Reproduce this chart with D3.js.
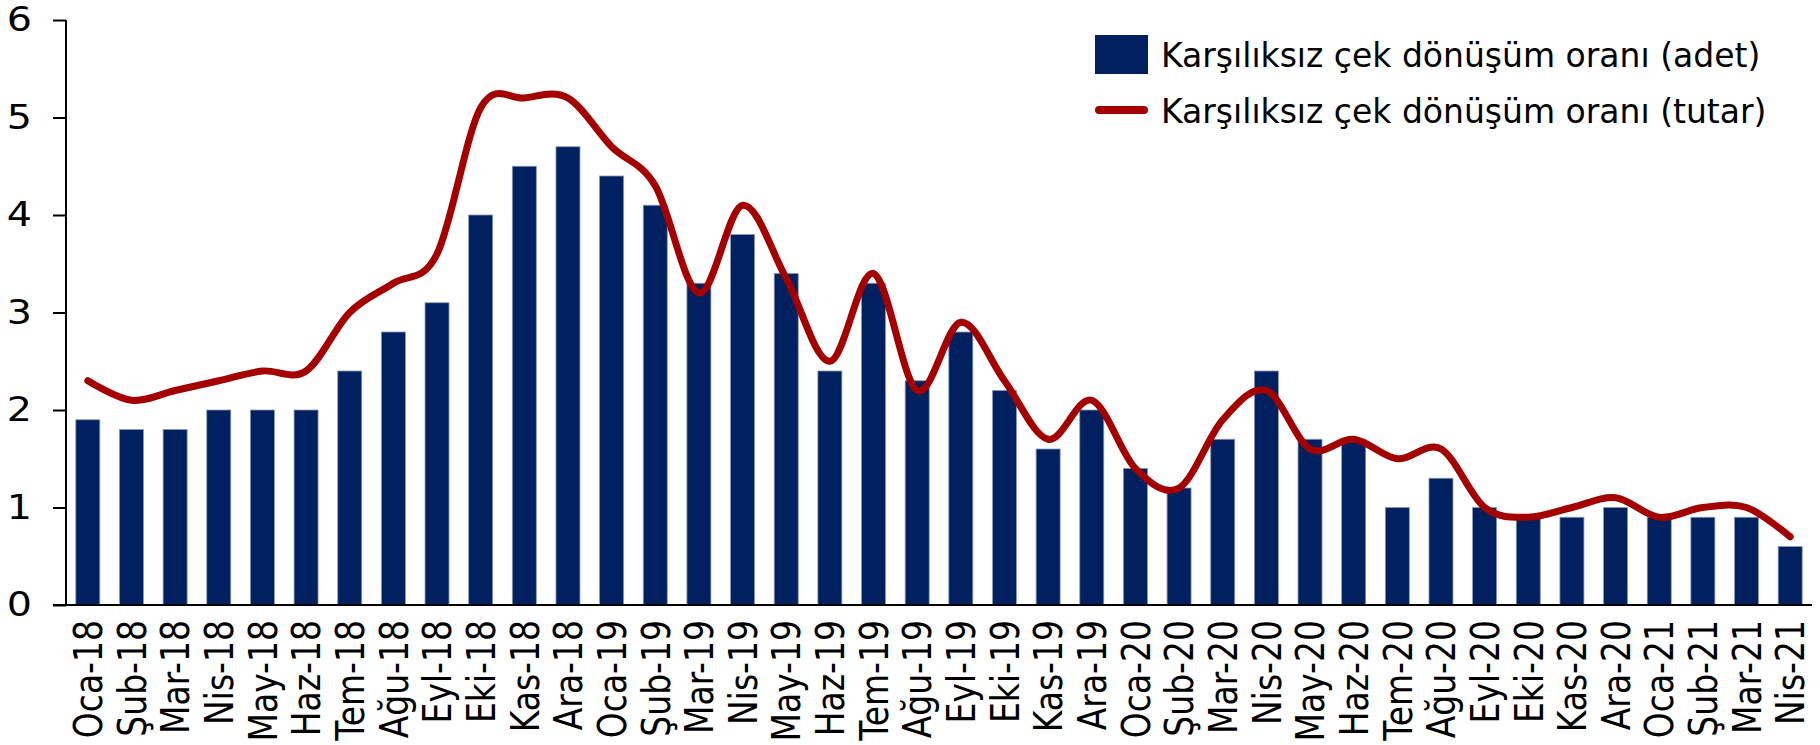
<!DOCTYPE html>
<html>
<head>
<meta charset="utf-8">
<script src="https://cdn.jsdelivr.net/npm/d3@7"></script>
<style>
	body { margin: 0; background: #fff; }
	text { font-family: "DejaVu Sans", Verdana, sans-serif; fill: #000; }
</style>
</head>
<body>
<div id="chart"></div>
<script>
var months = ["Oca-18","Şub-18","Mar-18","Nis-18","May-18","Haz-18","Tem-18","Ağu-18","Eyl-18","Eki-18","Kas-18","Ara-18",
	"Oca-19","Şub-19","Mar-19","Nis-19","May-19","Haz-19","Tem-19","Ağu-19","Eyl-19","Eki-19","Kas-19","Ara-19",
	"Oca-20","Şub-20","Mar-20","Nis-20","May-20","Haz-20","Tem-20","Ağu-20","Eyl-20","Eki-20","Kas-20","Ara-20",
	"Oca-21","Şub-21","Mar-21","Nis-21"]

// adet (bars)
var adet = [1.9,1.8,1.8,2.0,2.0,2.0,2.4,2.8,3.1,4.0,4.5,4.7,
	4.4,4.1,3.3,3.8,3.4,2.4,3.3,2.3,2.8,2.2,1.6,2.0,
	1.4,1.2,1.7,2.4,1.7,1.7,1.0,1.3,1.0,0.9,0.9,1.0,
	0.9,0.9,0.9,0.6]

// tutar (line)
var tutar = [2.3,2.1,2.2,2.3,2.4,2.4,3.0,3.3,3.6,5.1,5.2,5.2,
	4.7,4.3,3.2,4.1,3.35,2.5,3.4,2.2,2.9,2.3,1.7,2.1,
	1.4,1.2,1.9,2.2,1.6,1.7,1.5,1.6,1.0,0.9,1.0,1.1,
	0.9,1.0,1.0,0.7]

var yTicks = [0,1,2,3,4,5,6]
var legendLabels = ["Karşılıksız çek dönüşüm oranı (adet)", "Karşılıksız çek dönüşüm oranı (tutar)"]

var WIDTH = 1820, HEIGHT = 745
var LEFT = 66, RIGHT = 1812, TOP = 20, BOTTOM = 605
var BAR_COLOR = "#002060", LINE_COLOR = "#a50000"
var FONT = 33
var STRETCH = 1.2 // tick labels look wider than the font

var svg = d3.select("#chart").append("svg")
	.attr("width", WIDTH)
	.attr("height", HEIGHT)

var x = d3.scaleBand()
	.domain(months)
	.range([LEFT, RIGHT])
	.paddingInner(0.45)
	.paddingOuter(0.225)

var y = d3.scaleLinear()
	.domain([0, 6])
	.range([BOTTOM, TOP])

// bars
svg.selectAll(".bar")
	.data(adet)
	.enter()
	.append("rect")
	.attr("class", "bar")
	.attr("x", function(d,i){ return x(months[i]) })
	.attr("width", x.bandwidth())
	.attr("y", function(d){ return y(d) })
	.attr("height", function(d){ return y(0) - y(d) })
	.attr("fill", BAR_COLOR)
	.attr("stroke", "#8a98bb")
	.attr("stroke-width", 0.8)

// y axis
var yAxis = svg.append("g")
	.attr("transform", "translate(" + LEFT + ",0)")
	.call(d3.axisLeft(y).tickValues(yTicks).tickSize(13).tickFormat(d3.format("d")))

yAxis.select(".domain").attr("stroke", "#000").attr("stroke-width", 2).attr("d", "M0," + y(6) + "V" + y(0))
yAxis.selectAll(".tick line").attr("stroke", "#000").attr("stroke-width", 2)
yAxis.selectAll(".tick text")
	.attr("x", -34 / STRETCH)
	.attr("transform", "scale(" + STRETCH + ",1)")
	.style("font-size", FONT + "px")
	.style("font-family", "DejaVu Sans")

// x axis line
svg.append("line")
	.attr("x1", LEFT - 13)
	.attr("x2", RIGHT)
	.attr("y1", y(0))
	.attr("y2", y(0))
	.attr("stroke", "#000")
	.attr("stroke-width", 2)

// x labels
svg.selectAll(".xlabel")
	.data(months)
	.enter()
	.append("text")
	.attr("class", "xlabel")
	.attr("transform", function(d){
		return "translate(" + (x(d) + x.bandwidth()/2) + "," + (y(0) + 15) + ") scale(" + STRETCH + ",1) rotate(-90)"
	})
	.attr("text-anchor", "end")
	.attr("dy", "0.36em")
	.style("font-size", FONT + "px")
	.text(function(d){ return d })

// tutar line
var line = d3.line()
	.x(function(d,i){ return x(months[i]) + x.bandwidth()/2 })
	.y(function(d){ return y(d) })
	.curve(d3.curveCardinal.tension(0))

svg.append("path")
	.datum(tutar)
	.attr("d", line)
	.attr("fill", "none")
	.attr("stroke", LINE_COLOR)
	.attr("stroke-width", 7)
	.attr("stroke-linecap", "round")
	.attr("stroke-linejoin", "round")

// legend
var legend = svg.append("g")

legend.append("rect")
	.attr("x", 1095)
	.attr("y", 35)
	.attr("width", 53)
	.attr("height", 39)
	.attr("fill", BAR_COLOR)

legend.append("line")
	.attr("x1", 1099)
	.attr("x2", 1144)
	.attr("y1", 110)
	.attr("y2", 110)
	.attr("stroke", LINE_COLOR)
	.attr("stroke-width", 8)
	.attr("stroke-linecap", "round")

legend.selectAll(".legendText")
	.data(legendLabels)
	.enter()
	.append("text")
	.attr("class", "legendText")
	.attr("x", 1161)
	.attr("y", function(d,i){ return 67 + i*56 })
	.style("font-size", FONT + "px")
	.text(function(d){ return d })
</script>
</body>
</html>
